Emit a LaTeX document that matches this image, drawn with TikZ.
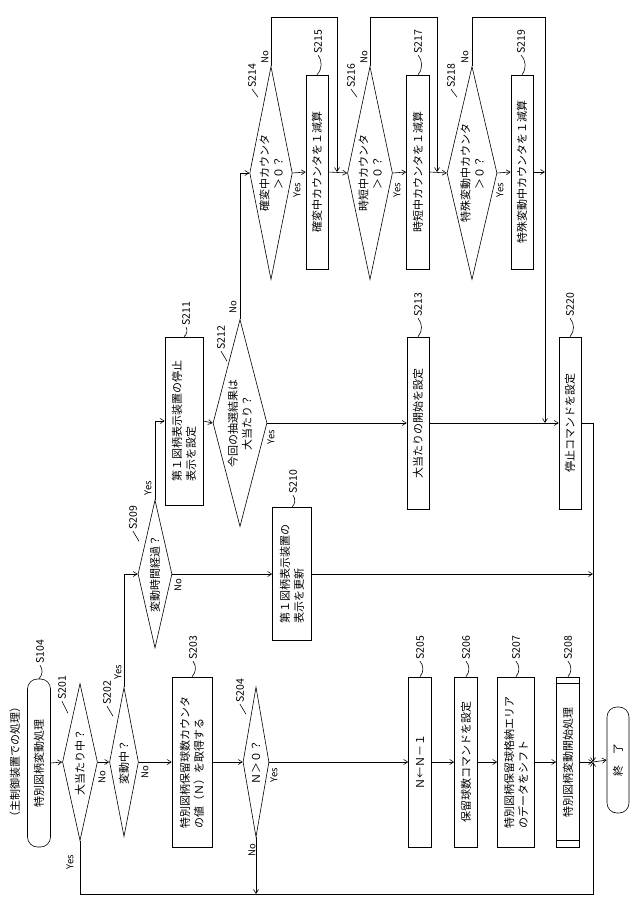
\documentclass[tikz,border=0pt]{standalone}
\usepackage{fontspec}
\setmainfont{Noto Sans CJK JP}
\usetikzlibrary{shapes.geometric,arrows.meta}
\tikzset{
  flow/.style={-{Straight Barb[length=4pt,width=5pt]}},
  proc/.style={draw,rotate=90,inner sep=2pt,font=\fontsize{11}{14}\selectfont,align=left},
  decide/.style={draw,diamond,rotate=90,inner sep=0pt,shape aspect=4,font=\fontsize{11}{14}\selectfont,align=center},
  term/.style={draw,rotate=90,rounded corners=10pt,font=\fontsize{11}{14}\selectfont},
  steplbl/.style={rotate=90,inner sep=1pt,font=\fontsize{10.5}{12}\selectfont},
  yn/.style={rotate=90,inner sep=1pt,font=\fontsize{9.5}{11}\selectfont}
}
\begin{document}
\begin{tikzpicture}[x=1pt,y=-1pt,line width=0.6pt]
  \useasboundingbox (0,0) rectangle (640,915);

  % start
  \node[rotate=90,font=\fontsize{11}{14}\selectfont] (head) at (15,762) {（主制御装置での処理）};
  \node[term,minimum width=168,minimum height=23] (start) at (39,763) {特別図柄変動処理};
  \node[steplbl] (l104) at (40,652) {S104};
  \draw (l104.west) to[bend left=40] (start.east);

  % left column
  \node[decide,minimum width=157,minimum height=35] (s201) at (80,762) {大当たり中？};
  \node[decide,minimum width=149,minimum height=29] (s202) at (124,762) {変動中？};
  \node[proc,minimum width=170,minimum height=40] (s203) at (192,762) {特別図柄保留球数カウンタ\\の値（Ｎ）を取得する};
  \node[decide,minimum width=150,minimum height=26] (s204) at (256,762) {Ｎ＞０？};
  \node[proc,minimum width=170,minimum height=23] (s205) at (420,762) {Ｎ←Ｎ－１};
  \node[proc,minimum width=170,minimum height=23] (s206) at (466,762) {保留球数コマンドを設定};
  \node[proc,minimum width=170,minimum height=37] (s207) at (516,762) {特別図柄保留球格納エリア\\のデータをシフト};
  \node[proc,minimum width=170,minimum height=23,inner xsep=10pt] (s208) at (568,762) {特別図柄変動開始処理};
  \draw ([yshift=-7pt]s208.north east) -- ([yshift=-7pt]s208.south east);
  \draw ([yshift=7pt]s208.north west) -- ([yshift=7pt]s208.south west);
  \node[term,minimum width=106,minimum height=22] (stop) at (618,760) {終　了};
  \coordinate (join) at (593,762);

  % middle column
  \node[decide,minimum width=148,minimum height=34] (s209) at (155,574) {変動時間経過？};
  \node[proc,minimum width=133,minimum height=39] (s210) at (292,574) {第１図柄表示装置の\\表示を更新};
  \node[proc,minimum width=168,minimum height=38] (s211) at (184,421) {第１図柄表示装置の停止\\表示を設定};
  \node[decide,minimum width=207,minimum height=54] (s212) at (240,423) {今回の抽選結果は\\大当たり？};
  \node[proc,minimum width=172,minimum height=22] (s213) at (418,423) {大当たりの開始を設定};
  \node[proc,minimum width=172,minimum height=22] (s220) at (570,423) {停止コマンドを設定};

  % counters
  \node[decide,minimum width=213,minimum height=42] (s214) at (271,173) {確変中カウンタ\\＞０？};
  \node[proc,minimum width=194,minimum height=22] (s215) at (317,172) {確変中カウンタを１減算};
  \node[decide,minimum width=213,minimum height=45] (s216) at (370,173) {時短中カウンタ\\＞０？};
  \node[proc,minimum width=194,minimum height=23] (s217) at (418,172) {時短中カウンタを１減算};
  \node[decide,minimum width=213,minimum height=50] (s218) at (472,173) {特殊変動中カウンタ\\＞０？};
  \node[proc,minimum width=194,minimum height=22] (s219) at (522,172) {特殊変動中カウンタを１減算};
  \coordinate (t214) at (337,17);
  \coordinate (t216) at (437,17);
  \coordinate (t218) at (545,17);

  % step labels
  \node[steplbl] (l201) at (62,688) {S201};
  \draw (l201.west) -- ++(6,12);
  \node[steplbl] (l202) at (107,693) {S202};
  \draw (l202.west) -- ++(6,10);
  \node[steplbl] (l203) at (193,648) {S203};
  \draw (l203.west) to[bend left=40] (s203.east);
  \node[steplbl] (l204) at (240,691) {S204};
  \draw (l204.west) -- ++(6,10);
  \foreach \n/\x in {205/420,206/466,207/516,208/568} {
    \node[steplbl] (l\n) at (\x,648) {S\n};
    \draw (l\n.west) to[bend left=40] (s\n.east);
  }
  \node[steplbl] (l209) at (133,518) {S209};
  \draw (l209.west) -- ++(6,10);
  \node[steplbl] (l210) at (293,482) {S210};
  \draw (l210.west) to[bend left=40] (s210.east);
  \node[steplbl] (l211) at (186,314) {S211};
  \draw (l211.west) to[bend left=40] (s211.east);
  \node[steplbl] (l212) at (221,338) {S212};
  \draw (l212.west) -- ++(6,10);
  \node[steplbl] (l213) at (418,305) {S213};
  \draw (l213.west) to[bend left=40] (s213.east);
  \node[steplbl] (l220) at (570,305) {S220};
  \draw (l220.west) to[bend left=40] (s220.east);
  \foreach \n/\x in {214/252,216/351,218/451} {
    \node[steplbl] (l\n) at (\x,76) {S\n};
    \draw (l\n.west) -- ++(6,8);
  }
  \foreach \n/\x in {215/318,217/418,219/521} {
    \node[steplbl] (l\n) at (\x,42) {S\n};
    \draw (l\n.west) to[bend left=40] (s\n.east);
  }

  % yes / no
  \node[yn] (n201) at (102,777) {No};
  \node[yn] (y201) at (70,862) {Yes};
  \node[yn] (y202) at (118,672) {Yes};
  \node[yn] (n202) at (145,772) {No};
  \node[yn] (y204) at (274,775) {Yes};
  \node[yn] (n204) at (252,850) {No};
  \node[yn] (y209) at (148,488) {Yes};
  \node[yn] (n209) at (178,585) {No};
  \node[yn] (y212) at (271,437) {Yes};
  \node[yn] (n212) at (233,307) {No};
  \foreach \n/\x/\xy in {214/265/297,216/364/397,218/465/500} {
    \node[yn] (n\n) at (\x,57) {No};
    \node[yn] (y\n) at (\xy,190) {Yes};
  }

  % connectors
  \draw[flow] (start.south) -- (s201.north);
  \draw[flow] (s201.south) -- (s202.north);
  \draw[flow] (s202.south) -- (s203.north);
  \draw[flow] (s203.south) -- (s204.north);
  \draw[flow] (s204.south) -- (s205.north);
  \draw[flow] (s205.south) -- (s206.north);
  \draw[flow] (s206.south) -- (s207.north);
  \draw[flow] (s207.south) -- (s208.north);
  \draw[flow] (s208.south) -- (join);
  \draw[flow] (join) -- (stop.north);
  \draw[flow] (s201.west) |- (593,894) -- (join);
  \draw[flow] (s204.west) -- (s204.west |- 0,894);
  \draw[flow] (s202.east) |- (s209.north);
  \draw[flow] (s209.south) -- (s210.north);
  \draw[flow] (s210.south) -- (s210.south -| join);
  \draw[flow] (s209.east) |- (s211.north);
  \draw[flow] (s211.south) -- (s212.north);
  \draw[flow] (s212.south) -- (s213.north);
  \draw[flow] (s213.south) -- (s220.north);
  \draw[flow] (s220.south) -| (join);
  \draw[flow] (s212.east) |- (s214.north);
  \draw[flow] (s214.south) -- (s215.north);
  \draw[flow] (s215.south) -- (s216.north);
  \draw[flow] (s214.east) |- (t214) -- (t214 |- s215.south);
  \draw[flow] (s216.south) -- (s217.north);
  \draw[flow] (s217.south) -- (s218.north);
  \draw[flow] (s216.east) |- (t216) -- (t216 |- s217.south);
  \draw[flow] (s218.south) -- (s219.north);
  \draw[flow] (s219.south) -- (s219.south -| t218);
  \draw[flow] (s218.east) |- (t218) -- (t218 |- s220.north);
\end{tikzpicture}
\end{document}
